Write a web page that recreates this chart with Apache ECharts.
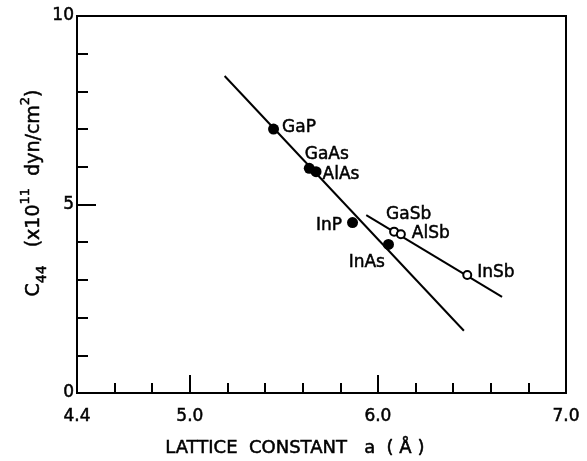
<!DOCTYPE html>
<html>
<head>
<meta charset="utf-8">
<script src="https://cdn.jsdelivr.net/npm/echarts@6/dist/echarts.min.js"></script>
<style>
  html, body { margin: 0; padding: 0; background: #fff; }
  #chart { width: 587px; height: 461px; }
</style>
</head>
<body>
<div id="chart"></div>
<script>
// Elastic constant C44 versus lattice constant for III-V compounds
const filledNames = ['GaP', 'GaAs', 'AlAs', 'InP', 'InAs'];
const filledA = [5.445, 5.635, 5.671, 5.865, 6.056];
const filledC44 = [7.00, 5.96, 5.87, 4.52, 3.94];

const openNames = ['GaSb', 'AlSb', 'InSb'];
const openA = [6.086, 6.122, 6.475];
const openC44 = [4.28, 4.21, 3.13];

// Fitted trend lines (end points)
const lineP_A = [5.185, 6.457];
const lineP_C44 = [8.41, 1.65];
const lineSb_A = [5.938, 6.66];
const lineSb_C44 = [4.72, 2.55];

const xTickLabels = [4.4, 5.0, 6.0, 7.0];
const yTickLabels = [0, 5, 10];

// Label placement for each compound name
const labelOffsets = {
  GaP: ['right', [-2, -2]],
  GaAs: ['right', [-15, -14]],
  AlAs: ['right', [-4, 3]],
  InP: ['left', [0, 3]],
  InAs: ['left', [7, 18]],
  GaSb: ['right', [-18, -17]],
  AlSb: ['right', [1, -1]],
  InSb: ['right', [0, -2]]
};

const FONT = 'DejaVu Sans';
// a thin outline in the text colour gives the heavier strokes of the lettering
const heavy = { textBorderColor: '#000', textBorderWidth: 0.5 };
const labelStyle = Object.assign({ color: '#000', fontFamily: FONT, fontSize: 17 }, heavy);

function pointData(names, xs, ys) {
  return names.map((n, i) => {
    const [pos, off] = labelOffsets[n];
    return {
      name: n,
      value: [xs[i], ys[i]],
      label: Object.assign({ show: true, formatter: n, position: pos, offset: off }, labelStyle)
    };
  });
}
function pairs(xs, ys) { return xs.map((x, i) => [x, ys[i]]); }

const chart = echarts.init(document.getElementById('chart'), null, { renderer: 'canvas' });

const axisLineStyle = { color: '#000', width: 2 };

chart.setOption({
  animation: false,
  backgroundColor: '#fff',
  grid: {
    left: 77, right: 21, top: 16, bottom: 68,
    show: true, borderColor: '#000', borderWidth: 2,
    containLabel: false, outerBoundsMode: 'none'
  },
  xAxis: [
    {
      type: 'value', min: 4.4, max: 7.0, interval: 0.2,
      axisLine: { show: true, lineStyle: axisLineStyle },
      axisTick: { show: true, inside: true, length: 10, lineStyle: { color: '#000', width: 2 } },
      axisLabel: Object.assign({
        show: true, customValues: xTickLabels, formatter: v => v.toFixed(1),
        color: '#000', fontFamily: FONT, fontSize: 17, margin: 15
      }, heavy),
      splitLine: { show: false }
    },
    {
      type: 'value', min: 4.4, max: 7.0, position: 'bottom',
      axisLine: { show: false },
      axisTick: { show: true, inside: true, length: 18, customValues: [5.0, 6.0], lineStyle: { color: '#000', width: 2 } },
      axisLabel: { show: false },
      splitLine: { show: false }
    }
  ],
  yAxis: [
    {
      type: 'value', min: 0, max: 10, interval: 1,
      axisLine: { show: true, lineStyle: axisLineStyle },
      axisTick: { show: true, inside: true, length: 11, lineStyle: { color: '#000', width: 2 } },
      axisLabel: Object.assign({
        show: true, customValues: yTickLabels, formatter: v => String(v),
        color: '#000', fontFamily: FONT, fontSize: 17, margin: 3
      }, heavy),
      splitLine: { show: false }
    },
    {
      type: 'value', min: 0, max: 10, position: 'left',
      axisLine: { show: false },
      axisTick: { show: true, inside: true, length: 19, customValues: [5], lineStyle: { color: '#000', width: 2 } },
      axisLabel: { show: false },
      splitLine: { show: false }
    }
  ],
  series: [
    {
      type: 'line', data: pairs(lineP_A, lineP_C44), symbol: 'none',
      lineStyle: { color: '#000', width: 2 }, z: 2
    },
    {
      type: 'line', data: pairs(lineSb_A, lineSb_C44), symbol: 'none',
      lineStyle: { color: '#000', width: 2 }, z: 2
    },
    {
      type: 'scatter', data: pointData(filledNames, filledA, filledC44),
      symbol: 'circle', symbolSize: 11,
      itemStyle: { color: '#000', opacity: 1 }, z: 3
    },
    {
      type: 'scatter', data: pointData(openNames, openA, openC44),
      symbol: 'circle', symbolSize: 8,
      itemStyle: { color: '#fff', borderColor: '#000', borderWidth: 2, opacity: 1 }, z: 3
    }
  ],
  graphic: [
    {
      type: 'text', left: 165, top: 439,
      style: {
        text: 'LATTICE  CONSTANT   a  ( Å )',
        fill: '#000', stroke: '#000', lineWidth: 0.5, font: '18px "DejaVu Sans"'
      }
    },
    {
      type: 'text', x: 34, y: 193, rotation: Math.PI / 2,
      style: {
        text: '{m|C}{sub|44}{m|   (x10}{sup|11}{m|  dyn/cm}{sup|2}{m|)}',
        align: 'center', verticalAlign: 'middle',
        fill: '#000',
        rich: {
          m: { fontFamily: FONT, fontSize: 19, lineHeight: 30, verticalAlign: 'middle', fill: '#000', stroke: '#000', lineWidth: 0.5 },
          sub: { fontFamily: FONT, fontSize: 14, lineHeight: 30, verticalAlign: 'bottom', fill: '#000', stroke: '#000', lineWidth: 0.5 },
          sup: { fontFamily: FONT, fontSize: 13, lineHeight: 30, verticalAlign: 'top', fill: '#000', stroke: '#000', lineWidth: 0.5 }
        }
      }
    }
  ]
});
</script>
</body>
</html>
